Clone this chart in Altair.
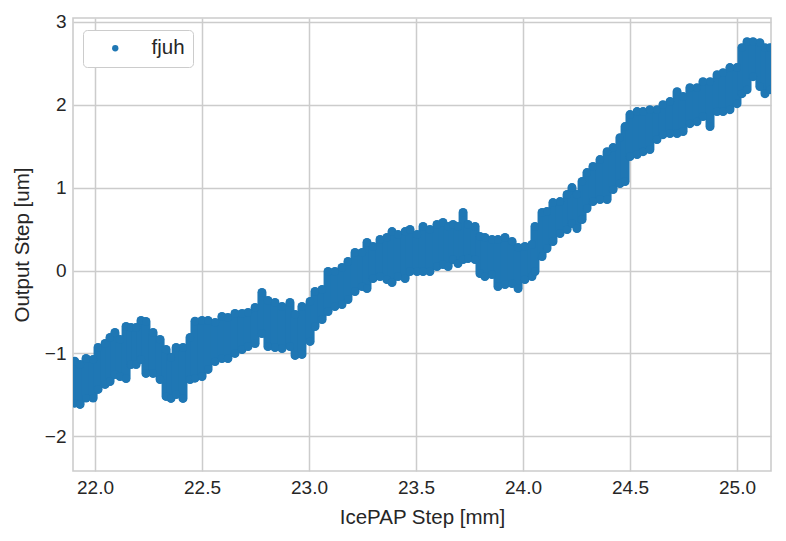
import altair as alt
import pandas as pd

# IcePAP step [mm] sample positions
x_mm = [21.905, 21.93, 21.958, 21.991, 22.014, 22.047, 22.07, 22.093, 22.117, 22.145,
        22.168, 22.192, 22.215, 22.238, 22.271, 22.304, 22.332, 22.355, 22.379, 22.411,
        22.444, 22.467, 22.5, 22.528, 22.561, 22.593, 22.621, 22.654, 22.687, 22.715,
        22.748, 22.78, 22.808, 22.841, 22.874, 22.911, 22.935, 22.967, 23.005, 23.028,
        23.061, 23.089, 23.121, 23.154, 23.182, 23.215, 23.248, 23.271, 23.299, 23.332,
        23.364, 23.388, 23.416, 23.449, 23.472, 23.505, 23.533, 23.565, 23.598, 23.626,
        23.65, 23.673, 23.696, 23.72, 23.743, 23.776, 23.799, 23.822, 23.855, 23.883,
        23.916, 23.949, 23.977, 24.009, 24.042, 24.056, 24.089, 24.112, 24.14, 24.173,
        24.206, 24.229, 24.252, 24.276, 24.299, 24.327, 24.36, 24.393, 24.421, 24.453,
        24.477, 24.5, 24.533, 24.561, 24.593, 24.626, 24.654, 24.687, 24.72, 24.748,
        24.78, 24.813, 24.841, 24.874, 24.907, 24.935, 24.967, 25.0, 25.023, 25.047,
        25.075, 25.107, 25.131, 25.154]

# highest output step [um] at each position
y_top = [-1.094, -1.134, -1.062, -1.074, -0.929, -0.881, -0.808, -0.748, -0.832, -0.676,
         -0.688, -0.688, -0.603, -0.615, -0.748, -0.832, -0.953, -1.049, -0.929, -0.929,
         -0.808, -0.612, -0.603, -0.603, -0.627, -0.555, -0.567, -0.519, -0.519, -0.507,
         -0.446, -0.265, -0.362, -0.386, -0.434, -0.386, -0.531, -0.434, -0.374, -0.253,
         -0.229, -0.012, -0.012, 0.036, 0.109, 0.217, 0.217, 0.338, 0.29, 0.374,
         0.398, 0.47, 0.434, 0.47, 0.495, 0.434, 0.531, 0.495, 0.555, 0.579,
         0.531, 0.555, 0.531, 0.7, 0.555, 0.531, 0.41, 0.398, 0.374, 0.374,
         0.398, 0.35, 0.277, 0.29, 0.314, 0.531, 0.7, 0.712, 0.82, 0.832,
         0.917, 1.001, 0.917, 1.074, 1.182, 1.255, 1.339, 1.435, 1.484, 1.604,
         1.737, 1.882, 1.918, 1.918, 1.942, 1.942, 2.002, 2.039, 2.159, 2.099,
         2.207, 2.207, 2.28, 2.28, 2.364, 2.388, 2.449, 2.449, 2.69, 2.762,
         2.762, 2.75, 2.69, 2.69]

# lowest output step [um] at each position
y_bottom = [-1.601, -1.616, -1.54, -1.54, -1.435, -1.375, -1.339, -1.255, -1.279, -1.303,
            -1.134, -1.134, -1.074, -1.242, -1.242, -1.315, -1.52, -1.544, -1.496, -1.544,
            -1.315, -1.299, -1.279, -1.194, -1.098, -1.062, -1.062, -1.001, -0.953, -0.917,
            -0.881, -0.76, -0.917, -0.929, -0.941, -0.917, -1.025, -1.013, -0.856, -0.676,
            -0.591, -0.495, -0.434, -0.41, -0.35, -0.253, -0.193, -0.217, -0.097, -0.072,
            -0.109, -0.145, -0.072, -0.097, -0.012, -0.012, -0.012, -0.012, 0.048, 0.072,
            0.048, 0.133, 0.084, 0.133, 0.145, 0.133, -0.036, -0.072, -0.048, -0.193,
            -0.169, -0.157, -0.217, -0.109, -0.072, -0.012, 0.169, 0.265, 0.35, 0.446,
            0.495, 0.567, 0.507, 0.615, 0.748, 0.832, 0.856, 0.856, 0.977, 1.049,
            1.074, 1.375, 1.399, 1.435, 1.46, 1.58, 1.64, 1.653, 1.653, 1.677,
            1.773, 1.797, 1.858, 1.737, 1.918, 1.918, 1.942, 2.014, 2.135, 2.183,
            2.34, 2.22, 2.135, 2.183]

series_name = "fjuh"
x_ticks = [22.0, 22.5, 23.0, 23.5, 24.0, 24.5, 25.0]
y_ticks = [-2, -1, 0, 1, 2, 3]

band = pd.DataFrame({"x": x_mm, "top": y_top, "bottom": y_bottom})
pts = pd.DataFrame({
    "x": x_mm + x_mm,
    "y": y_top + y_bottom,
    "series": [series_name] * (2 * len(x_mm)),
})

BLUE = "#1f77b4"
FONT = "Liberation Sans"

xscale = alt.Scale(domain=[21.897, 25.159], nice=False, zero=False)
yscale = alt.Scale(domain=[-2.42, 3.048], nice=False, zero=False)

xaxis = alt.Axis(title="IcePAP Step [mm]", values=x_ticks, format=".1f",
                 labelPadding=7, titlePadding=10)
yaxis = alt.Axis(title="Output Step [um]", values=y_ticks, format="d",
                 labelPadding=7, titlePadding=12)

rules = alt.Chart(band).mark_rule(strokeWidth=9, strokeCap="round", color=BLUE, clip=True).encode(
    x=alt.X("x:Q", scale=xscale, axis=xaxis),
    y=alt.Y("top:Q", scale=yscale, axis=yaxis),
    y2="bottom:Q",
)

dots = alt.Chart(pts).mark_circle(size=64, opacity=1, clip=True).encode(
    x=alt.X("x:Q", scale=xscale),
    y=alt.Y("y:Q", scale=yscale),
    color=alt.Color("series:N", scale=alt.Scale(range=[BLUE]),
                    legend=alt.Legend(title=None, orient="none", legendX=10, legendY=12,
                                      symbolType="circle", symbolSize=40,
                                      symbolFillColor=BLUE, symbolStrokeWidth=0,
                                      symbolOffset=14, labelOffset=26,
                                      padding=8, cornerRadius=4,
                                      strokeColor="#cccccc", fillColor="white",
                                      labelFontSize=20.5, labelFont=FONT, labelColor="#262626")),
)

chart = alt.layer(rules, dots).properties(
    width=698, height=453,
    autosize=alt.AutoSizeParams(type="none"),
    padding={"left": 73, "top": 18, "right": 15, "bottom": 70},
).configure_view(
    stroke="#cccccc", strokeWidth=1.6,
).configure_axis(
    grid=True, gridColor="#cccccc", gridWidth=1.5,
    domain=False, ticks=False,
    labelFont=FONT, labelFontSize=19, labelColor="#262626",
    titleFont=FONT, titleFontSize=20.5, titleColor="#262626", titleFontWeight="normal",
)

chart.save("out.html", embed_options={"renderer": "svg", "actions": False})
